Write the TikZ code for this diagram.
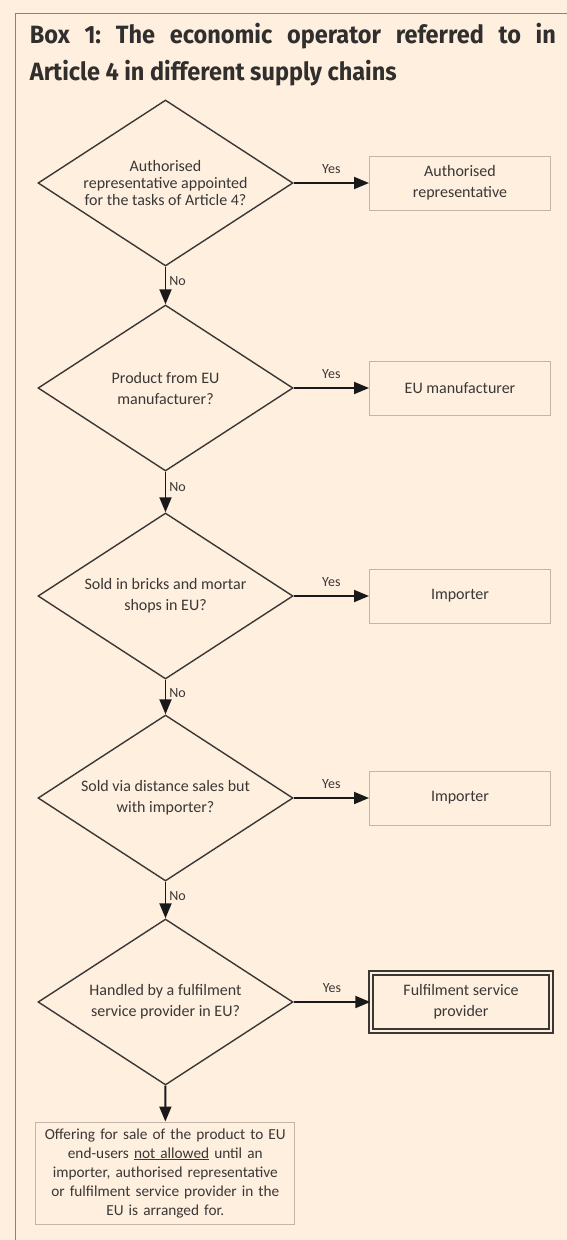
\documentclass[tikz,border=0pt]{standalone}
\usepackage{fontspec}
\setmainfont{Carlito}
\newfontfamily\titlefont[FakeStretch=0.94]{Fira Sans}
\usetikzlibrary{shapes.geometric,arrows.meta}
\definecolor{paper}{HTML}{FEEFDF}
\definecolor{frame}{HTML}{8E8279}
\definecolor{boxline}{HTML}{C2B6AA}
\definecolor{ink}{HTML}{3A3735}

\tikzset{
  decision/.style={diamond, draw=ink, line width=1.4pt, aspect=1.536,
    minimum width=255pt, minimum height=166pt, inner sep=0pt, align=center,
    text=ink, font=\fontsize{16}{21}\selectfont},
  answer/.style={rectangle, draw=boxline, line width=1pt, minimum width=181pt,
    minimum height=54pt, align=center, text=ink, font=\fontsize{16}{21}\selectfont},
  flow/.style={line width=1.9pt, draw=black!90, -{Triangle[length=15pt,width=12pt]}},
  yeslab/.style={above, yshift=7pt, inner sep=1pt, text=ink, font=\fontsize{14}{15}\selectfont},
  nolab/.style={anchor=west, xshift=2pt, inner sep=1pt, text=ink, font=\fontsize{14}{15}\selectfont}
}

\begin{document}
\begin{tikzpicture}[x=1pt,y=-1pt]

\useasboundingbox (0,0) rectangle (567,1240);
\fill [paper] (0,0) rectangle (567,1240);
\draw [frame, line width=1.5pt] (15.5,1240) -- (15.5,13.5) -- (567,13.5);

% heading
\node (title) at (29.7,23) [anchor=north west, text width=526pt, align=justify, inner sep=0pt,
  text=ink!85!black, font=\titlefont\bfseries\fontsize{25}{37}\selectfont\frenchspacing]
  {Box 1: The economic operator referred to in\linebreak Article 4 in different supply chains};

% questions
\node (q1) at (165.5,183) [decision, font=\fontsize{16}{17}\selectfont]
  {Authorised\\representative appointed\\for the tasks of Article 4?};
\node (q2) at (165.5,388) [decision] {Product from EU\\manufacturer?};
\node (q3) at (165.5,596) [decision] {Sold in bricks and mortar\\shops in EU?};
\node (q4) at (165.5,798) [decision] {Sold via distance sales but\\with importer?};
\node (q5) at (165.5,1002) [decision] {Handled by a fulfilment\\service provider in EU?};

% outcomes
\node (a1) at (460,183) [answer] {Authorised\\representative};
\node (a2) at (460,388) [answer] {EU manufacturer};
\node (a3) at (460,596) [answer] {Importer};
\node (a4) at (460,798) [answer] {Importer};
\node (a5) at (461,1002) [answer, draw=ink, line width=1.4pt, double=paper, double distance=2.5pt,
  minimum width=180pt, minimum height=58pt] {Fulfilment service\\provider};

\node (stop) at (165.3,1173) [answer, minimum width=256pt, minimum height=102pt, text width=252pt,
  font=\fontsize{15.3}{19}\selectfont]
  {Offering for sale of the product to EU\\end-users \underline{not allowed} until an\\importer, authorised representative\\or fulfilment service provider in the\\EU is arranged for.};

% yes branches
\draw [flow] (q1) -- node [yeslab] {Yes} (a1);
\draw [flow] (q2) -- node [yeslab] {Yes} (a2);
\draw [flow] (q3) -- node [yeslab] {Yes} (a3);
\draw [flow] (q4) -- node [yeslab] {Yes} (a4);
\draw [flow] (q5) -- node [yeslab] {Yes} (a5);

% no branches
\draw [flow] (q1) -- node [nolab, pos=.38] {No} (q2);
\draw [flow] (q2) -- node [nolab, pos=.38] {No} (q3);
\draw [flow] (q3) -- node [nolab, pos=.38] {No} (q4);
\draw [flow] (q4) -- node [nolab, pos=.38] {No} (q5);
\draw [flow] (q5) -- (stop);

\end{tikzpicture}
\end{document}
